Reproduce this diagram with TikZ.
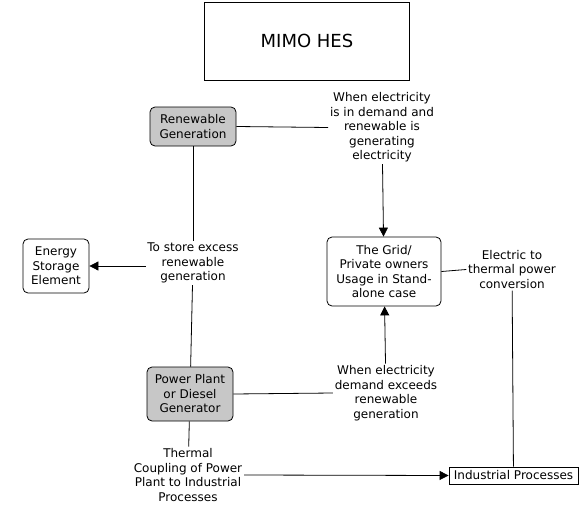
\documentclass[tikz,border=0pt]{standalone}
\usepackage{fontspec}
\setmainfont{DejaVu Sans}
\usetikzlibrary{arrows.meta}
\tikzset{
  concept/.style={draw, rounded corners=5pt, align=center, inner sep=2pt,
    font=\fontsize{12}{14.5}\selectfont},
  shaded/.style={concept, fill=black!22},
  lbl/.style={align=center, inner sep=1.5pt, font=\fontsize{12}{14.5}\selectfont},
  link/.style={-{Triangle[length=9pt,width=9pt]}},
}
\begin{document}
\begin{tikzpicture}[x=1pt,y=-1pt,line width=0.8pt]
\useasboundingbox (0,0) rectangle (587,514);
% concepts
\node[draw, minimum width=205, minimum height=78, font=\fontsize{18}{22}\selectfont] (title) at (307,41) {MIMO HES};
\node[shaded, minimum width=86, minimum height=39] (rengen) at (193,126.5) {Renewable\\Generation};
\node[concept, minimum width=66, minimum height=54] (storage) at (56,266) {Energy\\Storage\\Element};
\node[concept, minimum width=114, minimum height=69] (grid) at (384,271.5) {The Grid/\\Private owners\\Usage in Stand-\\alone case};
\node[shaded, minimum width=86, minimum height=54] (plant) at (190,394) {Power Plant\\or Diesel\\Generator};
\node[draw, inner sep=1.5pt, minimum width=129, minimum height=17, font=\fontsize{12}{14.5}\selectfont] (industry) at (513.5,475.5) {Industrial Processes};
% linking phrases
\node[lbl] (lblstore) at (193,263) {To store excess\\renewable\\generation};
\node[lbl] (lbldemand) at (382,127.5) {When electricity\\is in demand and\\renewable is\\generating\\electricity};
\node[lbl] (lblexceed) at (386,393) {When electricity\\demand exceeds\\renewable\\generation};
\node[lbl] (lblthermal) at (512,269.5) {Electric to\\thermal power\\conversion};
\node[lbl] (lblcoupling) at (188,475) {Thermal\\Coupling of Power\\Plant to Industrial\\Processes};
% connections
\draw (rengen) -- (lblstore);
\draw[link] (lblstore.west |- storage) -- (storage);
\draw (lblstore) -- (plant);
\draw (rengen.east) -- (lbldemand.west);
\draw[link] (lbldemand) -- (grid);
\draw (plant.east) -- (lblexceed.west);
\draw[link] (lblexceed) -- (grid);
\draw (grid.east) -- (lblthermal.west);
\draw (lblthermal) -- (industry);
\draw (plant) -- (lblcoupling);
\draw[link] (lblcoupling.east) -- (industry.west);
\end{tikzpicture}
\end{document}
